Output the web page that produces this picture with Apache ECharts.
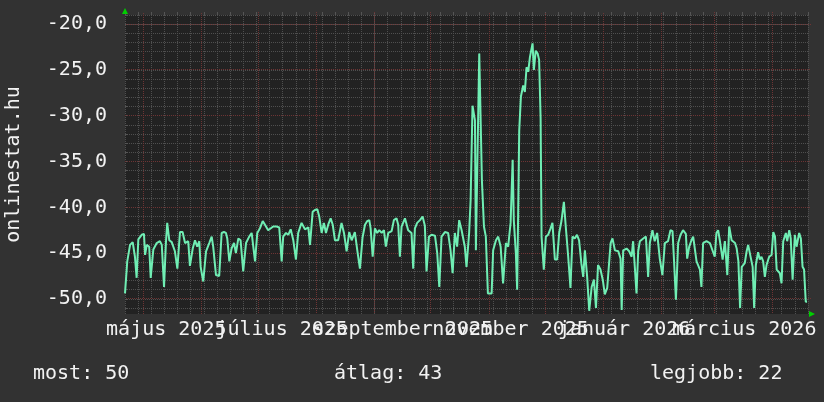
<!DOCTYPE html>
<html><head><meta charset="utf-8">
<script src="https://cdn.jsdelivr.net/npm/echarts@6/dist/echarts.min.js"></script>
<style>html,body{margin:0;padding:0;background:#323232;}#c{width:824px;height:402px;}</style>
</head><body><div id="c"></div>
<script>
// x = days since Monday 2025-04-21
const days = [0,1.2,2.7,4.1,5.3,6.2,7.1,8.9,10.1,10.7,11.6,12.9,13.7,15.1,16.9,18.6,19.6,20.8,21.8,22.5,23.6,24.9,25.7,26.6,27.9,29.3,30.7,32.0,33.7,34.6,36.1,37.3,38.5,39.6,40.3,41.7,43.2,44.9,46.2,47.0,48.5,50.2,51.5,52.7,53.8,54.5,55.6,56.8,58.1,59.1,60.4,61.6,63.0,64.5,66.2,67.5,68.4,69.3,70.5,71.9,73.4,74.6,75.5,76.3,77.3,79.0,80.8,82.2,83.5,84.3,85.8,87.0,88.3,89.7,91.1,92.3,94.1,95.0,95.9,97.7,98.6,100.0,101.2,102.5,103.5,104.8,106.0,107.1,108.3,109.6,110.7,111.9,112.8,113.6,115.4,116.7,118.1,119.5,120.8,122.5,123.8,125.2,126.6,127.9,129.1,130.2,130.9,132.0,133.2,134.4,135.5,136.8,138.0,139.0,140.3,142.1,143.3,144.7,145.6,146.5,147.4,149.2,150.9,152.7,153.6,154.5,155.7,157.2,158.6,159.8,160.7,162.0,163.4,165.2,166.4,167.5,168.7,170.5,172.2,173.5,174.6,175.8,177.0,178.1,179.4,181.1,182.0,183.4,184.2,185.2,186.5,187.0,187.7,188.8,189.7,190.2,191.3,192.3,193.4,195.4,196.2,197.7,198.9,200.2,201.5,203.0,204.2,205.5,206.6,207.2,208.3,209.0,210.1,211.0,212.2,213.1,214.0,214.9,215.8,216.7,217.2,217.9,218.9,219.9,220.7,221.5,222.0,223.2,224.3,225.5,226.8,227.8,229.1,230.3,231.4,232.6,233.9,234.9,236.2,237.4,238.5,239.7,240.9,242.0,243.2,244.2,245.1,246.3,247.4,248.7,249.9,251.0,252.1,253.4,254.7,255.7,257.0,258.0,258.8,259.8,261.1,262.9,264.1,264.7,265.5,267.3,268.7,270.0,270.8,271.7,272.6,273.5,274.4,276.2,277.6,278.8,279.7,281.1,282.3,283.6,285.0,286.4,287.7,289.4,290.7,291.8,292.5,293.6,294.8,296.1,297.4,298.9,299.6,300.7,301.9,302.8,304.6,306.4,307.2,308.1,309.9,311.7,314.3,315.2,316.1,317.0,318.5,319.7,321.0,322.0,323.3,325.1,326.0,326.9,327.8,328.7,330.3,331.3,332.1,333.0,334.5,335.3,336.2,337.4,338.3,339.2,340.1,341.0,341.9,343.3,344.6,345.5,346.4,347.3,349.0,349.9,350.8,352.2,352.9,354.0,354.8,355.8,357.0,357.9,359.3,360.2,361.1,361.9,362.8,363.5];
const values = [-49.4,-45.9,-44.1,-43.8,-45.4,-47.7,-43.5,-43.0,-42.9,-45.2,-44.1,-44.3,-47.7,-44.6,-43.9,-43.7,-44.1,-48.7,-43.9,-41.7,-43.6,-43.8,-43.6,-44.8,-46.7,-42.7,-42.7,-43.9,-43.7,-46.4,-44.5,-43.6,-44.3,-43.7,-46.5,-48.1,-44.8,-43.9,-43.2,-44.3,-47.4,-47.5,-42.8,-42.7,-42.8,-43.4,-45.9,-44.5,-43.9,-45.0,-43.4,-43.6,-47.0,-43.9,-43.2,-42.8,-42.7,-45.9,-42.8,-42.3,-41.5,-41.9,-41.7,-42.5,-42.3,-42.1,-42.1,-42.2,-45.9,-43.2,-42.8,-43.0,-42.4,-43.6,-45.7,-42.8,-41.7,-41.6,-42.4,-42.2,-44.1,-40.5,-40.3,-40.2,-41.0,-42.8,-41.7,-42.8,-41.9,-41.2,-41.9,-43.6,-43.4,-43.6,-41.7,-42.8,-44.8,-42.7,-43.6,-42.7,-44.7,-46.7,-43.3,-41.9,-41.5,-41.4,-42.3,-45.4,-42.3,-42.8,-42.5,-42.8,-42.5,-44.3,-42.8,-42.6,-41.4,-41.2,-41.9,-45.4,-42.1,-41.2,-42.5,-42.8,-46.7,-42.3,-41.7,-41.4,-41.0,-42.0,-47.0,-43.2,-43.0,-43.1,-45.0,-48.7,-43.2,-42.7,-42.8,-44.7,-47.2,-42.8,-44.3,-41.4,-42.5,-44.3,-46.5,-42.8,-39.2,-28.9,-30.5,-44.7,-36.3,-23.2,-23.2,-37.0,-42.1,-43.2,-49.4,-49.4,-44.7,-43.6,-43.2,-44.3,-48.3,-43.9,-44.3,-41.7,-34.8,-41.4,-45.0,-49.0,-31.6,-27.9,-26.7,-27.4,-24.7,-25.2,-23.6,-23.7,-22.1,-25.0,-22.9,-23.2,-23.9,-30.3,-43.2,-46.8,-43.2,-43.0,-42.3,-41.7,-45.7,-45.7,-42.8,-41.5,-39.4,-42.1,-45.4,-48.8,-43.2,-43.4,-43.0,-43.6,-46.1,-47.6,-44.7,-47.6,-51.3,-48.7,-47.9,-51.0,-46.3,-46.8,-48.0,-49.5,-48.8,-48.8,-43.9,-43.4,-44.7,-44.8,-45.6,-51.2,-44.7,-44.5,-44.8,-45.4,-43.7,-46.5,-49.4,-44.8,-43.7,-43.4,-43.2,-47.6,-43.9,-42.5,-43.7,-42.8,-45.6,-47.4,-43.9,-43.7,-42.5,-42.6,-45.4,-50.1,-43.9,-43.0,-42.5,-42.9,-45.6,-44.3,-43.6,-43.2,-45.9,-46.8,-48.7,-43.9,-43.7,-43.9,-45.4,-42.8,-42.5,-43.6,-45.7,-43.7,-47.4,-42.1,-43.6,-43.9,-44.5,-45.9,-51.0,-46.5,-46.1,-44.8,-44.1,-45.0,-46.5,-51.0,-46.3,-44.9,-45.7,-45.4,-45.9,-47.6,-46.3,-45.4,-45.2,-42.7,-43.2,-46.8,-47.2,-48.3,-43.7,-42.8,-43.7,-42.5,-43.4,-47.9,-43.0,-44.3,-42.8,-43.4,-46.5,-46.8,-50.3,-50.3];
const monthStarts = [10,41,71,102,133,163,194,224,255,286,314,345];
const labelDays = [22,83.5,148,205.5,266,330];
const labelTexts = ['május 2025','július 2025','szeptember 2025','november 2025','január 2026','március 2026'];
const yMinorTicks = [-51,-50,-49,-48,-47,-46,-45,-44,-43,-42,-41,-40,-39,-38,-37,-36,-35,-34,-33,-32,-31,-30,-29,-28,-27,-26,-25,-24,-23,-22,-21,-20,-19];
const yMajorTicks = [-50,-45,-40,-35,-30,-25,-20];
const footerTexts = ['most: 50','átlag: 43','legjobb: 22'];
const footerLeft = [33,334,650];

const FONT = 'DejaVu Sans Mono';
const TXT = '#f2f2f2';
const RED = '#6e3434';
const Y_MIN = -51.65, Y_MAX = -19, X_MIN = 0, X_MAX = 364;
const minorLine = {show:true, lineStyle:{color:'#4f4f4f', type:'dotted', width:1}};
const xFmt = (v)=>{const i=labelDays.indexOf(v); return i>=0?labelTexts[i]:'';};
const labelStyle = {margin:6, color:TXT, fontFamily:FONT, fontSize:20, hideOverlap:false, showMinLabel:true, showMaxLabel:true, formatter:xFmt};

// 2x2 checker pattern => dotted 1px lines
const pat = document.createElement('canvas');
pat.width = 2; pat.height = 2;
(function(){const g = pat.getContext('2d'); g.fillStyle = RED; g.fillRect(0,0,1,1); g.fillRect(1,1,1,1);})();
const dotFill = {image: pat, repeat: 'repeat'};

const chart = echarts.init(document.getElementById('c'), null, {renderer:'canvas'});
chart.setOption({
  animation:false,
  backgroundColor:'#323232',
  title: footerTexts.map((t,i)=>({text:t, left:footerLeft[i], top:364, padding:0,
    textStyle:{color:TXT, fontFamily:FONT, fontSize:20, fontWeight:'normal'}})),
  grid:{left:125, right:16, top:15, bottom:88, show:true, backgroundColor:'#222222', borderWidth:0, outerBoundsMode:'none', containLabel:false},
  xAxis:[
    {type:'value', min:X_MIN, max:X_MAX, interval:7, position:'top',
     axisLine:{show:false}, axisTick:{show:true, length:3, lineStyle:{color:'#555555'}},
     axisLabel:{show:false}, splitLine:minorLine},
    {type:'value', min:X_MIN, max:X_MAX, position:'bottom',
     axisLine:{show:true, symbol:['none','triangle'], symbolSize:[6,6], symbolOffset:[0,4], lineStyle:{color:'#00d000', width:0}},
     axisTick:{show:false},
     axisLabel:Object.assign({customValues:labelDays.filter((d,i)=>i%2===0)}, labelStyle),
     splitLine:{show:false}},
    {type:'value', min:X_MIN, max:X_MAX, position:'bottom',
     axisLine:{show:false}, axisTick:{show:false},
     axisLabel:Object.assign({customValues:labelDays.filter((d,i)=>i%2===1)}, labelStyle),
     splitLine:{show:false}}
  ],
  yAxis:[
    {type:'value', min:Y_MIN, max:Y_MAX, position:'right',
     axisLine:{show:false}, axisTick:{show:true, customValues:yMinorTicks, length:3, lineStyle:{color:'#555555'}},
     axisLabel:{show:false}, splitLine:minorLine},
    {type:'value', min:Y_MIN, max:Y_MAX, position:'left',
     name:'onlinestat.hu', nameLocation:'middle', nameGap:101,
     nameTextStyle:{color:TXT, fontFamily:FONT, fontSize:20},
     axisLine:{show:true, symbol:['none','triangle'], symbolSize:[6,6], symbolOffset:[0,4], lineStyle:{color:'#00d000', width:0}},
     axisTick:{show:false},
     axisLabel:{customValues:yMajorTicks, margin:18, color:TXT, fontFamily:FONT, fontSize:20,
       showMinLabel:true, showMaxLabel:true,
       formatter:(v)=>v.toFixed(1).replace('.', ',')},
     splitLine:{show:false}}
  ],
  series:[
    {type:'custom', name:'monthGrid', xAxisIndex:0, yAxisIndex:0, z:1, silent:true, clip:false,
     data: monthStarts.map(d=>[d, -35]),
     renderItem:(params, api)=>{
       const cs = params.coordSys;
       const x = Math.floor(api.coord([api.value(0), api.value(1)])[0]);
       return {type:'rect', silent:true, shape:{x:x, y:Math.floor(cs.y)-3, width:1, height:Math.round(cs.height)+3},
         style:{fill:dotFill}};
     }},
    {type:'custom', name:'valueGrid', xAxisIndex:0, yAxisIndex:0, z:1, silent:true, clip:false,
     data: yMajorTicks.map(v=>[182, v]),
     renderItem:(params, api)=>{
       const cs = params.coordSys;
       const y = Math.floor(api.coord([api.value(0), api.value(1)])[1]);
       return {type:'rect', silent:true, shape:{x:Math.floor(cs.x), y:y, width:Math.round(cs.width)+3, height:1},
         style:{fill:dotFill}};
     }},
    {type:'line', name:'signal', xAxisIndex:0, yAxisIndex:0, showSymbol:false, symbol:'none', z:5,
     data: days.map((d,i)=>[d, values[i]]),
     lineStyle:{color:'#70eeb4', width:2}, itemStyle:{color:'#70eeb4'}}
  ]
});
</script></body></html>
